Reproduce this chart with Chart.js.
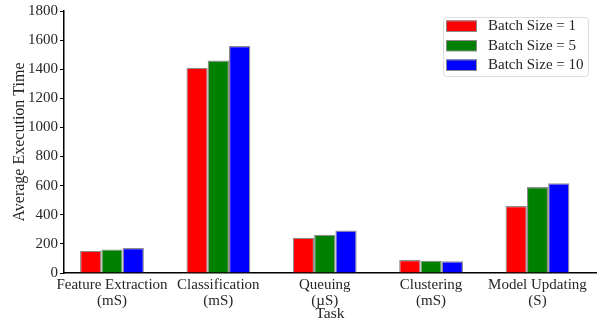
<!DOCTYPE html>
<html>
<head>
<meta charset="utf-8">
<script src="https://cdn.jsdelivr.net/npm/chart.js@4.4.1/dist/chart.umd.min.js"></script>
<style>
html,body{margin:0;padding:0;background:#fff;}
#wrap{width:601px;height:322px;position:relative;}
</style>
</head>
<body>
<div id="wrap"><canvas id="c" width="601" height="322"></canvas></div>
<script>
const categories = [
  ["Feature Extraction", "(mS)"],
  ["Classification", "(mS)"],
  ["Queuing", "(\u00b5S)"],
  ["Clustering", "(mS)"],
  ["Model Updating", "(S)"]
];
const seriesNames = ["Batch Size = 1", "Batch Size = 5", "Batch Size = 10"];
const batch1 = [152, 1410, 242, 89, 460];
const batch5 = [162, 1460, 262, 85, 590];
const batch10 = [172, 1560, 292, 80, 616];
const yTicks = [0, 200, 400, 600, 800, 1000, 1200, 1400, 1600, 1800];
const colors = ["#ff0000", "#008000", "#0000ff"];

const FONT = "'Liberation Serif', 'Times New Roman', serif";
const TXT = "#262626";

const seriesValues = [batch1, batch5, batch10];
const datasets = seriesValues.map((vals, s) => ({
  label: seriesNames[s],
  data: vals.map((v, i) => ({ x: i, y: v })),
  backgroundColor: colors[s],
  borderColor: "#8c8c8c",
  borderWidth: 1.2,
  borderSkipped: "bottom",
  categoryPercentage: 0.6,
  barPercentage: 1.0
}));

const legendPlugin = {
  id: "insideLegend",
  afterDraw(chart) {
    const ctx = chart.ctx;
    const x0 = 443, y0 = 17, w = 145, h = 59;
    ctx.save();
    ctx.fillStyle = "rgba(255,255,255,0.9)";
    ctx.strokeStyle = "#dcdcdc";
    ctx.lineWidth = 1;
    ctx.beginPath();
    if (ctx.roundRect) ctx.roundRect(x0 + 0.5, y0 + 0.5, w, h, 3); else ctx.rect(x0 + 0.5, y0 + 0.5, w, h);
    ctx.fill();
    ctx.stroke();
    ctx.font = "15px " + FONT;
    ctx.textBaseline = "middle";
    ctx.textAlign = "left";
    seriesNames.forEach((name, i) => {
      const cy = 26 + i * 19.5;
      ctx.fillStyle = colors[i];
      ctx.fillRect(446, cy - 5.5, 31, 11);
      ctx.strokeStyle = "#8c8c8c";
      ctx.lineWidth = 1;
      ctx.strokeRect(446.5, cy - 5, 30, 10.5);
      ctx.fillStyle = TXT;
      ctx.fillText(name, 488, cy + 0.5);
    });
    ctx.restore();
  }
};

new Chart(document.getElementById("c"), {
  type: "bar",
  data: { datasets },
  options: {
    responsive: false,
    animation: false,
    devicePixelRatio: 1,
    layout: { padding: { top: 11, right: 5, left: 0, bottom: 0 } },
    plugins: {
      legend: { display: false },
      tooltip: { enabled: false }
    },
    scales: {
      x: {
        type: "linear",
        min: -0.451,
        max: 4.55,
        offset: false,
        afterBuildTicks: (scale) => { scale.ticks = categories.map((_, i) => ({ value: i })); },
        afterFit: (scale) => { scale.height = 49; },
        grid: { display: false, drawTicks: false },
        border: { display: true, color: "#000", width: 1.5 },
        ticks: {
          autoSkip: false,
          maxRotation: 0,
          padding: 4,
          color: TXT,
          font: { family: FONT, size: 15, lineHeight: 1.05 },
          callback: (v) => categories[v]
        },
        title: {
          display: true,
          text: "Task",
          color: TXT,
          font: { family: FONT, size: 15.5, lineHeight: 1.0 },
          padding: { top: 0, bottom: 0 }
        }
      },
      y: {
        min: 0,
        max: 1800,
        afterBuildTicks: (scale) => { scale.ticks = yTicks.map(v => ({ value: v })); },
        afterFit: (scale) => { scale.width = 64; },
        grid: { display: true, drawOnChartArea: false, drawTicks: true, tickLength: 4, color: "#000", lineWidth: 1 },
        border: { display: true, color: "#000", width: 1.5 },
        ticks: {
          padding: 2,
          color: TXT,
          font: { family: FONT, size: 15 },
          callback: (v) => String(v)
        },
        title: {
          display: true,
          text: "Average Execution Time",
          color: TXT,
          font: { family: FONT, size: 16, lineHeight: 1.2 },
          padding: { top: 10, bottom: 0 }
        }
      }
    }
  },
  plugins: [legendPlugin]
});
</script>
</body>
</html>
